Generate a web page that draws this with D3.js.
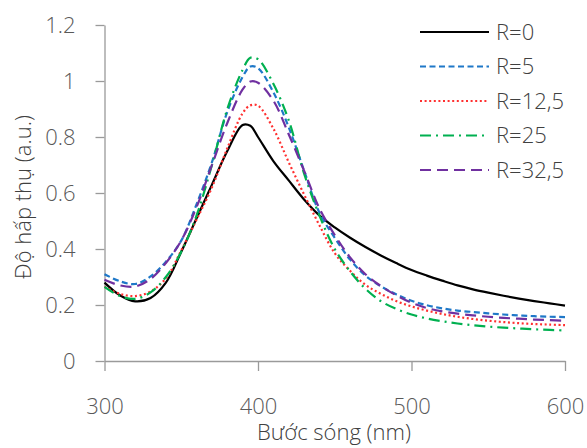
<!DOCTYPE html>
<html>
<head>
<meta charset="utf-8">
<script src="https://cdn.jsdelivr.net/npm/d3@7"></script>
<style>
  html, body { margin: 0; padding: 0; background: #fff; }
  svg { display: block; font-family: "Open Sans", sans-serif; }
</style>
</head>
<body>
<svg id="chart" width="587" height="448"></svg>
<script>
// ---- data ----
const wavelengths = [300,310,320,330,340,350,360,370,380,390,395,400,410,420,430,440,450,460,470,480,490,500,510,520,530,540,550,560,570,580,590,600];
const seriesNames = ["R=0", "R=5", "R=12,5", "R=25", "R=32,5"];
const r0   = [0.280,0.235,0.213,0.225,0.280,0.390,0.510,0.630,0.750,0.843,0.840,0.800,0.714,0.645,0.577,0.520,0.477,0.440,0.407,0.377,0.350,0.325,0.305,0.287,0.270,0.256,0.244,0.233,0.223,0.214,0.206,0.198];
const r5   = [0.310,0.285,0.275,0.302,0.355,0.430,0.560,0.710,0.890,1.015,1.052,1.046,0.960,0.835,0.680,0.530,0.440,0.362,0.305,0.267,0.238,0.215,0.199,0.188,0.180,0.175,0.170,0.166,0.163,0.160,0.158,0.157];
const r12  = [0.265,0.240,0.232,0.248,0.295,0.395,0.505,0.620,0.760,0.885,0.913,0.912,0.830,0.710,0.595,0.485,0.385,0.322,0.272,0.240,0.214,0.195,0.180,0.168,0.158,0.150,0.144,0.139,0.135,0.132,0.130,0.128];
const r25  = [0.265,0.232,0.222,0.245,0.300,0.390,0.520,0.700,0.900,1.040,1.083,1.078,0.990,0.860,0.670,0.520,0.400,0.320,0.258,0.214,0.186,0.166,0.152,0.142,0.134,0.128,0.123,0.119,0.116,0.113,0.111,0.109];
const r325 = [0.290,0.270,0.266,0.293,0.350,0.430,0.550,0.700,0.850,0.970,0.998,0.994,0.930,0.810,0.680,0.545,0.450,0.370,0.310,0.268,0.235,0.208,0.189,0.177,0.169,0.163,0.158,0.154,0.151,0.148,0.146,0.144];
const xTicks = [300, 400, 500, 600];
const yTicks = [0, 0.2, 0.4, 0.6, 0.8, 1, 1.2];
const yTickLabels = ["0", "0.2", "0.4", "0.6", "0.8", "1", "1.2"];
const xTitle = "Bước sóng (nm)";
const yTitle = "Độ hấp thụ (a.u.)";

// ---- styles ----
const styles = [
  { color: "#000000", dash: null,        width: 2.2 },
  { color: "#1f78c8", dash: "6,3.5",     width: 2.2 },
  { color: "#ff3030", dash: "2,2.6",     width: 2.2 },
  { color: "#00b050", dash: "11,5,2,5",  width: 2.2 },
  { color: "#7030a0", dash: "11,6",      width: 2.2 }
];
const allSeries = [r0, r5, r12, r25, r325];

const svg = d3.select("#chart");
const x = d3.scaleLinear().domain([300, 600]).range([104.5, 565]);
const y = d3.scaleLinear().domain([0, 1.2]).range([361, 25]);

const axisColor = "#9a9a9a";
const tickColor = "#595959";

// y axis
const yAxis = svg.append("g").attr("transform", "translate(104.5,0)")
  .call(d3.axisLeft(y).tickValues(yTicks).tickFormat((d, i) => yTickLabels[i]).tickSize(9).tickSizeOuter(0).tickPadding(20));
// x axis
const xAxis = svg.append("g").attr("transform", "translate(0,361)")
  .call(d3.axisBottom(x).tickValues(xTicks).tickFormat(d3.format("d")).tickSize(10).tickSizeOuter(0).tickPadding(27));

[yAxis, xAxis].forEach(g => {
  g.selectAll("path, line").attr("stroke", axisColor).attr("stroke-width", 1.3);
  g.selectAll("text").attr("fill", tickColor).attr("font-size", 22).attr("font-weight", 300)
    .attr("font-family", "'Open Sans', sans-serif");
});
yAxis.selectAll("text").attr("dy", "0.36em");

// lines
const line = d3.line().x((d, i) => x(wavelengths[i])).y(d => y(d)).curve(d3.curveCatmullRom.alpha(0.5));
const plot = svg.append("g");
allSeries.forEach((s, k) => {
  plot.append("path")
    .datum(s)
    .attr("d", line)
    .attr("fill", "none")
    .attr("stroke", styles[k].color)
    .attr("stroke-width", styles[k].width)
    .attr("stroke-dasharray", styles[k].dash);
});

// titles
svg.append("text").attr("x", 334).attr("y", 440).attr("text-anchor", "middle")
  .attr("font-size", 22).attr("font-weight", 300).attr("fill", "#404040").text(xTitle);
svg.append("text").attr("transform", "translate(31,197) rotate(-90)").attr("text-anchor", "middle")
  .attr("font-size", 22).attr("font-weight", 300).attr("fill", "#404040").text(yTitle);

// legend
const legend = svg.append("g");
seriesNames.forEach((name, k) => {
  const yy = 32 + k * 34.5;
  legend.append("line").attr("x1", 420).attr("x2", 489).attr("y1", yy).attr("y2", yy)
    .attr("stroke", styles[k].color).attr("stroke-width", styles[k].width)
    .attr("stroke-dasharray", styles[k].dash);
  legend.append("text").attr("x", 496).attr("y", yy).attr("dy", "0.36em")
    .attr("font-size", 22).attr("font-weight", 300).attr("fill", "#404040").text(name);
});
</script>
</body>
</html>
